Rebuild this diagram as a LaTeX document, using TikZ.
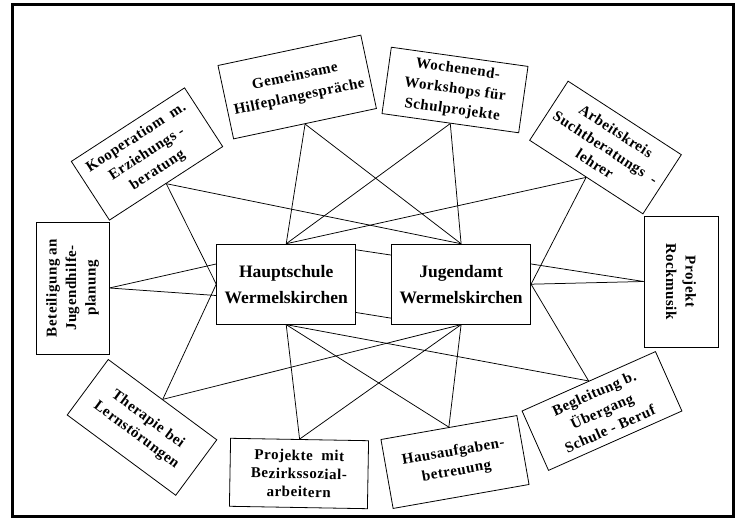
\documentclass[tikz,border=0pt]{standalone}
\usepackage{fontspec}
\setmainfont{Liberation Serif}
\newfontfamily\satfont[LetterSpace=3.5]{Liberation Serif}
\usetikzlibrary{calc}
\begin{document}
\begin{tikzpicture}[x=1pt,y=-1pt,
  sat/.style={draw,line width=0.8pt,inner sep=0pt,align=center,
    font={\satfont\fontsize{15}{19.5}\selectfont\bfseries}},
  center/.style={draw,line width=0.9pt,inner sep=0pt,align=center,
    minimum width=139,minimum height=80,
    font={\fontsize{17.5}{26}\selectfont\bfseries}},
  link/.style={line width=0.75pt}]
\useasboundingbox (0,0) rectangle (740,518);
\draw[line width=2.5pt] (12.5,4.5) rectangle (733.5,516.5);

% central boxes
\node[center] (haupt) at (286.2,284.2) {Hauptschule\\Wermelskirchen};
\node[center] (jug) at (461.1,284.2) {Jugendamt\\Wermelskirchen};

% satellites
\node[sat,minimum width=146,minimum height=75,rotate=12,font={\satfont\fontsize{15}{21}\selectfont\bfseries}] (gem) at (297.2,87) {Gemeinsame\\Hilfeplangespräche};
\node[sat,minimum width=138,minimum height=67,rotate=-8,font={\satfont\fontsize{15}{20.5}\selectfont\bfseries}] (woch) at (455,90) {Wochenend-\\Workshops für\\Schulprojekte};
\node[sat,minimum width=135,minimum height=70.5,rotate=-33] (arb) at (605.5,147.5) {Arbeitskreis\\Suchtberatungs~~-\\lehrer};
\node[sat,minimum width=131,minimum height=74,rotate=-90] (rock) at (681,281.5) {Projekt\\Rockmusik};
\node[sat,minimum width=146,minimum height=65,rotate=24] (begl) at (602,411) {Begleitung b.\\Übergang\\Schule - Beruf};
\node[sat,minimum width=138,minimum height=70,rotate=10] (haus) at (455,462) {Hausaufgaben-\\betreuung};
\node[sat,minimum width=138,minimum height=68,rotate=-1,font={\satfont\fontsize{15}{18.3}\selectfont\bfseries}] (proj) at (299,473.5) {Projekte~~mit\\Bezirkssozial-\\arbeitern};
\node[sat,minimum width=135,minimum height=69,rotate=-36.5] (ther) at (142,427.4) {Therapie bei\\Lernstörungen};
\node[sat,minimum width=132,minimum height=73,rotate=90] (bet) at (72.5,288) {Beteiligung an\\Jugendhilfe-\\planung};
\node[sat,minimum width=135,minimum height=70,rotate=33] (koop) at (147,154) {Kooperatiom~~m.\\Erziehungs~-\\beratung};

% points on the sides of the central boxes
\coordinate (hw1) at ($(haupt.north west)!0.25!(haupt.south west)$);
\coordinate (hw2) at ($(haupt.north west)!0.64!(haupt.south west)$);
\coordinate (je1) at ($(jug.north east)!0.25!(jug.south east)$);
\coordinate (he1) at ($(haupt.north east)!0.075!(haupt.south east)$);
\coordinate (he2) at ($(haupt.north east)!0.85!(haupt.south east)$);
\coordinate (jw1) at ($(jug.north west)!0.14!(jug.south west)$);
\coordinate (jw2) at ($(jug.north west)!0.92!(jug.south west)$);

% connectors
\draw[link] (gem.south) -- (haupt.north);
\draw[link] (gem.south) -- (jug.north);
\draw[link] (woch.south) -- (haupt.north);
\draw[link] (woch.south) -- (jug.north);
\draw[link] (arb.south) -- (haupt.north);
\draw[link] (arb.south) -- (jug.east);
\draw[link] (koop.south) -- (jug.north);
\draw[link] (koop.south) -- (haupt.west);
\draw[link] (ther.north) -- (haupt.west);
\draw[link] (ther.north) -- (jug.south);
\draw[link] (bet.south) -- (hw1);
\draw[link] (bet.south) -- (hw2);
\draw[link] (rock.south) -- (je1);
\draw[link] (rock.south) -- (jug.east);
\draw[link] (begl.north) -- (jug.east);
\draw[link] (begl.north) -- (haupt.south);
\draw[link] (proj.north) -- (haupt.south);
\draw[link] (proj.north) -- (jug.south);
\draw[link] (haus.north) -- (haupt.south);
\draw[link] (haus.north) -- (jug.south);
\draw[link] (he1) -- (jw1);
\draw[link] (he2) -- (jw2);
\end{tikzpicture}
\end{document}
